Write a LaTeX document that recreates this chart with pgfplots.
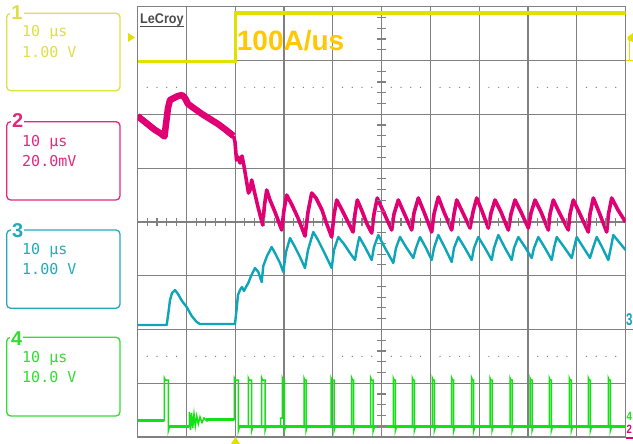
\documentclass[border=0pt]{standalone}
\usepackage{pgfplots}
\pgfplotsset{compat=1.18}
\usepackage{fontspec}
\usepackage{graphicx}
\setmainfont{Liberation Sans}
\newfontfamily\monofont{DejaVu Sans Mono}
\definecolor{gridgray}{RGB}{128,128,128}
\definecolor{ch1}{RGB}{225,225,0}
\definecolor{ch1box}{RGB}{222,222,70}
\definecolor{ch2}{RGB}{225,0,115}
\definecolor{ch2box}{RGB}{228,40,125}
\definecolor{ch3}{RGB}{15,165,185}
\definecolor{ch3box}{RGB}{35,170,185}
\definecolor{ch4}{RGB}{20,225,20}
\definecolor{ch4box}{RGB}{50,220,50}
\definecolor{amp}{RGB}{255,200,0}
\definecolor{logogray}{RGB}{75,75,75}
\begin{document}
\begin{tikzpicture}
\path[use as bounding box] (0,0) rectangle (633bp,444bp);
\begin{axis}[
  at={(137.5bp,7bp)}, anchor=south west,
  scale only axis, width=488bp, height=430.3bp,
  xmin=137.5, xmax=625.5, ymin=6.7, ymax=437, y dir=reverse,
  xtick={137.5,186.3,235.1,283.9,332.7,381.5,430.3,479.1,527.9,576.7,625.5},
  ytick={6.7,60.5,114.3,168.1,221.9,275.7,329.5,383.2,437},
  xticklabels={,,,,,,,,,,}, yticklabels={,,,,,,,,},
  major tick length=0pt,
  grid=major,
  major grid style={draw=gridgray, line width=1.2bp},
  axis line style={draw=gridgray, line width=1.5bp},
  no markers,
  unbounded coords=jump,
]
% Channel 1 (yellow)
\addplot[ch1, line width=3.5bp] coordinates {(137.5,61.3) (235.7,61.3) (235.7,12.8) (625.5,12.8)};
% Channel 2 (magenta) early noisy part
\addplot[ch2, line width=6.5bp, line join=round] coordinates {
(137.5,116) (140,118) (145,122) (150,126) (155,130) (160,133) (164.5,136.5) (166,124) (168,108) (170,100)
(174,98) (178,96) (182,95) (185,98) (188,104) (195,109) (202,114) (210,119) (218,124) (226,130) (233.5,136)};
% Channel 2 (magenta) after load step
\addplot[ch2, line width=3.6bp, line join=round] coordinates {
(233.5,136) (235,142) (236.5,160) (238,157) (240,163) (242,156) (244,166) (246,178) (248.5,193) (250,190)
(251.7,180) (254,190) (258,207) (262.7,225) (264.5,205) (266.7,190) (270,200) (275,212) (281.7,230)
(284,210) (286.7,195) (292,205) (298,218) (305,236) (308,212) (311.7,193) (316,198) (322,210) (326,222)
(331.7,237) (334,215) (336.7,200) (342,210) (348,222) (353,232) (355,214) (357.3,200) (362,211) (367,224)
(371.7,233) (374,214) (377.3,198) (384,213) (391.7,230) (394,214) (398.3,200) (404,213) (411.7,230)
(414,213) (418.3,198) (424,212) (431.7,232) (434,214) (438.3,197) (444,212) (451.7,230) (454,214)
(456.7,200) (462,211) (470,228) (473,212) (476.7,198) (482,211) (488.3,228) (491,213) (495,200)
(501,212) (508.3,230) (511,214) (515,200) (521,212) (528.3,228) (531,213) (535,200) (541,212)
(548.3,230) (550,214) (553.3,200) (559,212) (568.3,230) (570,214) (573.3,200) (579,212) (588.3,232)
(590,214) (593.3,198) (599,212) (606.7,232) (608.5,214) (611.7,198) (618,210) (625.5,222)};
% Channel 3 (cyan)
\addplot[ch3, line width=2.4bp, line join=round] coordinates {
(137.5,325) (166.7,325) (168.5,312) (170,300) (172,293) (175,290) (178,294) (182,301) (186.7,307)
(191.7,316) (196.7,322) (200,324) (235,324) (236.5,310) (238,295) (240,290) (242,287) (244,291)
(246,287) (248.3,283) (251,276) (255,268) (258.3,272) (261.7,282) (263.3,266) (267,256) (271.7,247)
(276,255) (280,263) (283.3,272) (286,252) (290,238) (295,247) (300,257) (305,268) (308,250) (313.3,232)
(318,240) (325,254) (331.7,268) (334,250) (338.3,237) (344,244) (350,253) (355,260) (357,248)
(359.3,237) (365,247) (371.7,260) (374,247) (378.3,235) (385,248) (393.3,263) (396,248) (400,237)
(406,247) (413.3,258) (416,248) (420,237) (426,248) (431.7,260) (434,248) (438.3,235) (445,248)
(451.7,262) (454,248) (458.3,237) (465,248) (471.7,260) (474,248) (478.3,237) (485,248) (491.7,260)
(494,248) (498.3,235) (505,248) (511.7,260) (514,248) (518.3,237) (525,247) (531.7,258) (534,248)
(538.3,237) (545,248) (551.7,260) (554,248) (556.7,237) (564,247) (571.7,258) (574,248) (576.7,237)
(583,247) (590,258) (593,248) (596.7,237) (602,247) (608.3,260) (611,247) (613.3,235) (619,242)
(625.5,250)};
% Channel 4 (green) baseline band
\addplot[ch4, line width=3.5bp] coordinates {
(137.5,420.5) (164.3,420.5) (nan,nan) (168.3,426.7) (189.3,426.7) (nan,nan) (206,419.5) (234.3,419.5)
(nan,nan) (238.3,426.7) (625.5,426.7)};
% Channel 4 (green) full trace
\addplot[ch4, line width=1.5bp] coordinates {
(137.5,420.5) (164.3,420.5) (164.3,378) (165.3,380) (168.3,380) (168.3,431) (169.5,426.7) (189.3,426.7)
(189.3,412) (190.5,430) (191.5,413) (192.7,428) (194,414) (195.3,426) (196.7,416) (198.3,424) (200,417)
(202,422.5) (204,418) (207,421) (210,419.5) (234.3,419.5) (234.3,378) (235.3,380) (238.3,380)
(238.3,431) (239.5,426.7)
(248.3,426.7) (248.3,378) (249.1,380) (251.6,380) (251.6,431) (252.8,426.7)
(261.7,426.7) (261.7,378) (262.5,380) (265,380) (265,431) (266.2,426.7)
(280.5,426.7) (280.5,418) (282.3,418) (282.3,378) (283.1,380) (284.3,380) (284.3,431) (285.5,426.7)
(304,426.7) (304,378) (304.8,380) (306,380) (306,431) (307.2,426.7)
(331,426.7) (331,378) (331.8,380) (334,380) (334,431) (335.2,426.7)
(351.7,426.7) (351.7,378) (352.5,380) (353.7,380) (353.7,431) (354.9,426.7)
(370.7,426.7) (370.7,378) (371.5,380) (373.2,380) (373.2,431) (374.4,426.7)
(393.3,426.7) (393.3,378) (394.1,380) (395.3,380) (395.3,431) (396.5,426.7)
(412.3,426.7) (412.3,378) (413.1,380) (414.3,380) (414.3,431) (415.5,426.7)
(432.3,426.7) (432.3,378) (433.1,380) (434.3,380) (434.3,431) (435.5,426.7)
(451.7,426.7) (451.7,378) (452.5,380) (453.7,380) (453.7,431) (454.9,426.7)
(471.7,426.7) (471.7,378) (472.5,380) (473.7,380) (473.7,431) (474.9,426.7)
(490,426.7) (490,378) (490.8,380) (492,380) (492,431) (493.2,426.7)
(510,426.7) (510,378) (510.8,380) (512,380) (512,431) (513.2,426.7)
(530,426.7) (530,378) (530.8,380) (532,380) (532,431) (533.2,426.7)
(549.3,426.7) (549.3,378) (550.1,380) (551.3,380) (551.3,431) (552.5,426.7)
(569.3,426.7) (569.3,378) (570.1,380) (571.3,380) (571.3,431) (572.5,426.7)
(588.3,426.7) (588.3,378) (589.1,380) (590.3,380) (590.3,431) (591.5,426.7)
(608.3,426.7) (608.3,378) (609.1,380) (610.3,380) (610.3,431) (611.5,426.7)
(625.5,426.7)};
\end{axis}
\begin{scope}[x=1bp,y=-1bp,shift={(0,444bp)}]
% dotted rows and center-line ticks
\foreach \i in {0,...,9}{
  \foreach \k in {1,...,4}{
    \pgfmathsetmacro\xx{137.5+48.8*\i+9.76*\k}
    \fill[gridgray] (\xx,87.4) circle (0.7bp);
    \fill[gridgray] (\xx,356.4) circle (0.7bp);
    \draw[gridgray, line width=1.1bp] (\xx,218) -- (\xx,226);
  }
}
\foreach \j in {0,...,7}{
  \foreach \k in {1,...,4}{
    \pgfmathsetmacro\yy{6.7+53.79*\j+10.758*\k}
    \draw[gridgray, line width=1.1bp] (377,\yy) -- (386,\yy);
  }
}
% LeCroy logo
\node[anchor=base west, inner sep=0, text=logogray] at (140,24)
  {\scalebox{0.9}[1]{\fontsize{14bp}{16bp}\selectfont\bfseries LeCroy}};
\draw[logogray, line width=1.2bp] (140,26.5) -- (184,26.5);
% slew rate label
\node[anchor=base west, inner sep=0, text=amp, font=\fontsize{28bp}{30bp}\selectfont\bfseries] at (236.7,50.7) {100A/us};
% markers
\fill[ch1] (128,33) -- (135,37.5) -- (128,42) -- cycle;
\fill[ch1] (231,444) -- (235.5,437) -- (240,444) -- cycle;
\draw[ch1, line width=1.5bp] (626,60.5) -- (633,60.5) (629.5,60.5) -- (629.5,38);
\fill[ch1] (627.5,37) -- (633,33) -- (633,42) -- (627.5,40) -- cycle;
\node[anchor=base west, inner sep=0, text=ch3] at (626,326)
  {\scalebox{0.68}[1]{\fontsize{17bp}{18bp}\selectfont\bfseries 3}};
\draw[ch3, line width=1.3bp] (626,329.5) -- (633,329.5);
\node[anchor=base west, inner sep=0, text=ch4] at (626.5,421)
  {\scalebox{0.8}[1]{\fontsize{12bp}{14bp}\selectfont\bfseries 4}};
\node[anchor=base west, inner sep=0, text=ch2] at (626.5,434)
  {\scalebox{0.8}[1]{\fontsize{12bp}{14bp}\selectfont\bfseries 2}};
\draw[ch2, line width=1.3bp] (626,438) -- (633,438);
% channel boxes
\draw[ch1box, line width=1.3bp, rounded corners=4bp] (6.7,13.3) rectangle (120,90.7);
\node[anchor=base west, inner sep=1bp, fill=white, text=ch1box, font=\fontsize{20bp}{22bp}\selectfont\bfseries] at (10.3,20) {1};
\node[anchor=base west, inner sep=0, text=ch1box, font=\monofont\fontsize{15bp}{18bp}\selectfont] at (22,37) {10 μs};
\node[anchor=base west, inner sep=0, text=ch1box, font=\monofont\fontsize{15bp}{18bp}\selectfont] at (22,57.5) {1.00 V};

\draw[ch2box, line width=1.3bp, rounded corners=4bp] (6.7,121.7) rectangle (120,200);
\node[anchor=base west, inner sep=1bp, fill=white, text=ch2box, font=\fontsize{20bp}{22bp}\selectfont\bfseries] at (11,128) {2};
\node[anchor=base west, inner sep=0, text=ch2box, font=\monofont\fontsize{15bp}{18bp}\selectfont] at (22,147) {10 μs};
\node[anchor=base west, inner sep=0, text=ch2box, font=\monofont\fontsize{15bp}{18bp}\selectfont] at (22,167) {20.0mV};

\draw[ch3box, line width=1.3bp, rounded corners=4bp] (6.7,230) rectangle (120,308.3);
\node[anchor=base west, inner sep=1bp, fill=white, text=ch3box, font=\fontsize{20bp}{22bp}\selectfont\bfseries] at (11,238) {3};
\node[anchor=base west, inner sep=0, text=ch3box, font=\monofont\fontsize{15bp}{18bp}\selectfont] at (22,255) {10 μs};
\node[anchor=base west, inner sep=0, text=ch3box, font=\monofont\fontsize{15bp}{18bp}\selectfont] at (22,275) {1.00 V};

\draw[ch4box, line width=1.3bp, rounded corners=4bp] (6.7,337.3) rectangle (120,416);
\node[anchor=base west, inner sep=1bp, fill=white, text=ch4box, font=\fontsize{20bp}{22bp}\selectfont\bfseries] at (10,346) {4};
\node[anchor=base west, inner sep=0, text=ch4box, font=\monofont\fontsize{15bp}{18bp}\selectfont] at (22,363) {10 μs};
\node[anchor=base west, inner sep=0, text=ch4box, font=\monofont\fontsize{15bp}{18bp}\selectfont] at (22,383) {10.0 V};
\end{scope}
\end{tikzpicture}
\end{document}
